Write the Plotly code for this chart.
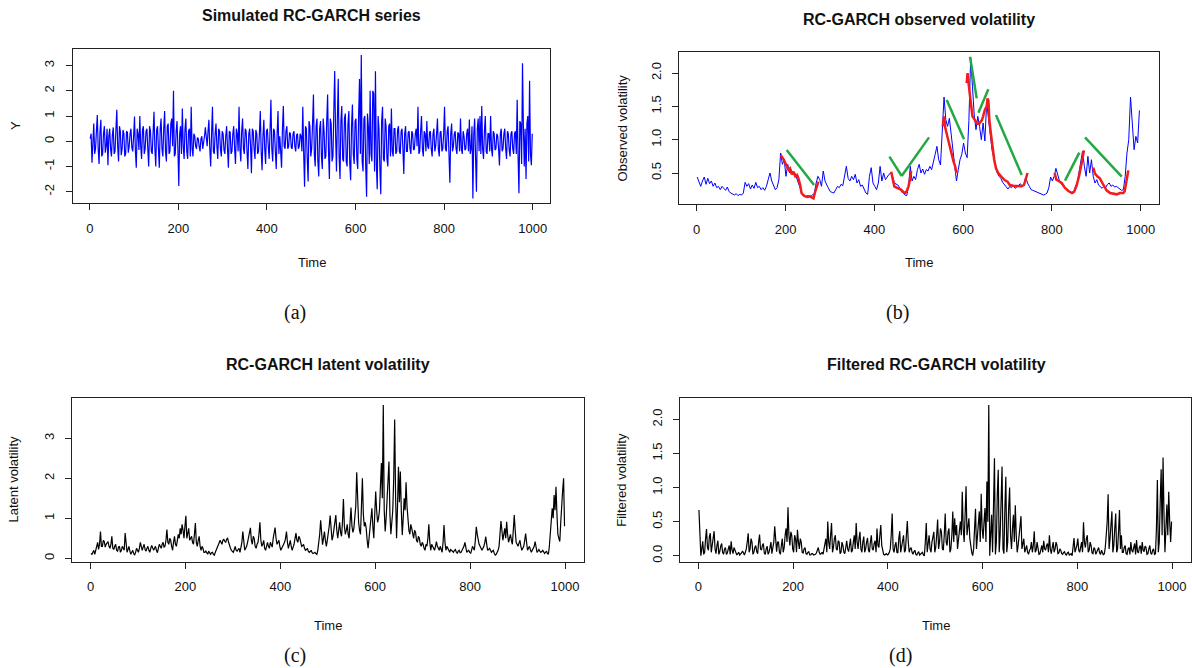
import plotly.graph_objects as go

W, H = 1192, 668

# ---------------- data ----------------
time2 = list(range(1, 1000, 2))   # panels (a), (c), (d): one value every 2 time steps
time4 = list(range(1, 1001, 4))   # panel (b): one value every 4 time steps

y_series = [
    0.1, 0.3, -0.85, 0.2, 0.7, -0.5, -0.3, 0.4, 1.04, -0.3, -0.9, 0.35, 0.85, -0.6, -0.5, 0.3, 0.6, -0.45, -0.2, 0.5,
    -0.95, 0.2, 0.5, -0.3, -0.6, 0.25, 0.55, -0.5, -0.4, 0.45, 1.25, -0.2, -0.8, 0.6, 0.4, -0.55, -0.3, 0.45, 0.3, -0.6,
    -0.5, 0.4, 0.35, -0.45, -0.2, 0.3, 0.5, -0.25, -0.4, 0.2, 0.98, -0.4, -1.05, 0.5, 0.3, -0.35, 1.0, -0.2, -0.7, 0.45,
    0.6, -0.5, -0.3, 0.4, 0.5, -0.3, -1.0, 0.6, 0.4, -0.4, -0.5, 0.35, 1.17, -0.3, -1.0, 0.45, 0.6, -0.3, -1.05, 0.5,
    0.9, -0.3, -0.6, 0.5, 1.2, -0.4, -0.8, 0.6, 0.7, -0.5, -0.4, 0.7, 0.9, -0.2, 2.0, -0.6, -0.5, 0.4, 0.8, -0.3,
    -1.77, 0.3, 0.6, -0.5, 1.3, -0.2, -0.7, 0.5, 0.9, -0.4, -0.7, 0.4, 0.5, -0.6, 1.37, -0.3, -0.6, 0.3, 0.2, -0.2,
    -0.3, 0.15, 0.1, -0.2, -0.4, 0.1, 0.2, -0.3, -0.1, 0.2, 0.55, -0.1, -0.2, 0.4, 0.85, -0.3, -1.0, 0.3, 1.37, -0.4,
    -0.5, 0.3, 0.7, -0.2, -0.7, 0.5, 0.4, -0.3, -0.6, 0.4, 0.3, -0.35, -0.5, 0.2, 0.6, -0.3, -1.05, 0.4, 0.35, -0.5,
    -0.4, 0.3, 0.6, -0.3, -0.9, 0.5, 0.3, -0.4, 1.37, -0.3, -0.8, 0.4, 0.9, -0.3, -0.5, 0.5, 0.4, -0.4, -1.1, 0.3,
    0.5, -0.2, -1.27, 0.5, 0.4, -0.3, -0.7, 0.45, 0.3, -0.5, -0.4, 0.3, 1.2, -0.4, -1.15, 0.2, 0.85, -0.3, -0.9, 0.4,
    0.5, -0.2, -0.7, 0.4, 1.65, -0.3, -0.8, 0.5, 0.4, -0.4, -1.1, 0.3, 1.2, -0.5, 0.2, -0.4, -1.05, 0.5, 1.4, -0.2,
    -0.3, 0.4, 0.6, -0.3, -0.2, 0.35, 0.3, -0.25, -0.3, 0.3, 0.4, -0.2, -0.4, 0.25, 0.3, -0.3, -0.2, 0.3, 0.2, -0.4,
    1.37, -0.5, -1.8, 0.6, 0.5, -0.7, -1.6, 0.8, 0.6, -0.6, -0.3, 0.7, 1.86, -0.5, -1.0, 0.6, 0.9, -0.8, -1.4, 0.5,
    0.8, -0.6, -1.1, 0.9, 0.4, -0.7, -0.6, 0.8, 1.86, -0.4, -1.5, 0.9, 0.7, -0.8, -0.6, 1.2, 2.79, 0.3, -1.2, 0.9,
    2.48, -0.6, -1.5, 0.8, 1.4, -0.7, -0.8, 0.9, 1.1, -0.8, -1.0, 0.7, 1.2, -0.9, -1.55, 0.6, 1.46, -0.5, -0.9, 0.8,
    0.9, -0.7, -1.1, 1.0, 2.47, -0.5, 3.42, -0.8, -1.2, 0.9, 1.0, -1.0, -2.2, 1.1, 0.6, -0.9, 2.0, -0.5, -0.8, 2.0,
    1.9, -1.2, 2.78, -0.9, -1.9, 1.0, 0.5, -1.1, -2.1, 0.8, 1.37, -0.7, -0.8, 0.9, 0.6, -0.7, -1.0, 0.6, 0.7, -0.6,
    1.3, -0.4, -0.6, 0.5, 0.5, -0.5, -0.4, 0.45, 0.6, -0.4, -0.5, 0.4, 0.5, -0.3, -1.3, 0.3, 0.6, -0.4, -0.4, 0.35,
    0.4, -0.3, -0.5, 0.4, 0.3, -0.35, -0.3, 0.3, 0.5, -0.2, 1.37, -0.5, -0.4, 0.4, 1.0, -0.3, -0.6, 0.4, 0.3, -0.4,
    0.8, -0.2, -0.3, 0.35, 0.4, -0.3, -0.6, 0.3, 0.5, -0.4, -0.2, 0.3, 0.9, -0.3, -0.6, 0.35, 0.4, -0.4, -0.3, 0.3,
    1.37, -0.3, -0.4, 0.4, 0.6, -0.5, -1.65, 0.3, 0.7, -0.4, -0.2, 0.3, 0.4, -0.3, -0.5, 0.35, 0.3, -0.4, 0.9, -0.3,
    -0.5, 0.4, 0.2, -0.35, -0.3, 0.3, 0.5, -0.4, 0.86, -0.5, -0.3, 0.6, -2.27, 0.3, 0.9, -0.6, -2.0, 0.5, 0.9, -0.4,
    1.0, -0.5, 1.4, -0.3, -0.7, 0.4, 1.0, -0.4, -0.5, 0.3, 0.3, -0.4, 1.0, -0.3, -0.6, 0.4, 0.3, -0.35, -0.3, 0.3,
    0.2, -0.3, -0.96, 0.3, 0.5, -0.4, -0.3, 0.3, 0.5, -0.3, -0.7, 0.4, 0.3, -0.35, -0.6, 0.3, 0.4, -0.3, -0.5, 0.3,
    0.4, -0.5, 1.65, -0.6, -2.06, 0.8, 0.7, -0.9, 3.1, 0.6, -1.0, 0.5, -1.5, 0.7, 1.0, -0.8, 2.4, -0.5, -0.95, 0.3,
]

obs_vol = [
    0.44, 0.37, 0.3, 0.38, 0.44, 0.33, 0.42, 0.34, 0.38, 0.3,
    0.35, 0.28, 0.3, 0.25, 0.3, 0.27, 0.24, 0.29, 0.22, 0.2,
    0.18, 0.17, 0.19, 0.16, 0.18, 0.17, 0.2, 0.36, 0.3, 0.34,
    0.26, 0.32, 0.27, 0.36, 0.28, 0.3, 0.25, 0.28, 0.24, 0.3,
    0.4, 0.5, 0.38, 0.3, 0.25, 0.28, 0.4, 0.8, 0.63, 0.7,
    0.45, 0.63, 0.5, 0.55, 0.48, 0.5, 0.42, 0.35, 0.28, 0.2,
    0.17, 0.15, 0.16, 0.15, 0.15, 0.17, 0.2, 0.35, 0.45, 0.4,
    0.3, 0.53, 0.38, 0.32, 0.27, 0.22, 0.21, 0.2, 0.25, 0.3,
    0.28, 0.33, 0.31, 0.45, 0.6, 0.42, 0.38, 0.45, 0.4, 0.48,
    0.35, 0.4, 0.3, 0.32, 0.25, 0.2, 0.18, 0.45, 0.58, 0.35,
    0.3, 0.25, 0.35, 0.6, 0.38, 0.5, 0.4, 0.45, 0.48, 0.5,
    0.45, 0.35, 0.33, 0.32, 0.28, 0.22, 0.2, 0.17, 0.16, 0.3,
    0.6, 0.38, 0.45, 0.4, 0.55, 0.63, 0.5, 0.56, 0.48, 0.55,
    0.53, 0.6, 0.55, 0.65, 0.78, 0.9, 0.7, 0.62, 1.19, 1.64,
    1.3, 1.2, 1.32, 1.1, 0.9, 0.65, 0.38, 0.55, 0.7, 0.78,
    0.95, 0.8, 0.73, 1.29, 2.23, 1.8, 1.37, 1.15, 1.35, 1.2,
    1.0, 1.25, 0.98, 1.56, 1.3, 1.05, 0.85, 0.73, 0.6, 0.5,
    0.45, 0.42, 0.36, 0.32, 0.29, 0.26, 0.3, 0.28, 0.32, 0.27,
    0.29, 0.31, 0.34, 0.3, 0.32, 0.44, 0.35, 0.3, 0.25, 0.24,
    0.23, 0.22, 0.21, 0.2, 0.18, 0.17, 0.18, 0.2, 0.28, 0.44,
    0.38, 0.45, 0.57, 0.45, 0.38, 0.34, 0.3, 0.28, 0.26, 0.24,
    0.22, 0.2, 0.2, 0.3, 0.35, 0.5, 0.7, 0.83, 0.6, 0.45,
    0.75, 0.5, 0.7, 0.45, 0.35, 0.4, 0.32, 0.3, 0.27, 0.3,
    0.28, 0.33, 0.35, 0.3, 0.32, 0.29, 0.3, 0.28, 0.26, 0.24,
    0.25, 0.45, 0.8, 1.0, 1.64, 1.3, 0.85, 1.05, 0.95, 1.44,
]

lat_vol = [
    0.12, 0.1, 0.15, 0.2, 0.1, 0.18, 0.3, 0.4, 0.22, 0.35, 0.67, 0.3, 0.3, 0.45, 0.42, 0.28, 0.35, 0.4, 0.42, 0.3,
    0.25, 0.35, 0.55, 0.25, 0.22, 0.3, 0.35, 0.2, 0.18, 0.28, 0.3, 0.15, 0.2, 0.3, 0.25, 0.2, 0.63, 0.25, 0.15, 0.22,
    0.3, 0.18, 0.1, 0.15, 0.2, 0.12, 0.08, 0.15, 0.25, 0.2, 0.15, 0.25, 0.4, 0.3, 0.2, 0.28, 0.35, 0.22, 0.18, 0.25,
    0.3, 0.2, 0.15, 0.25, 0.32, 0.26, 0.2, 0.25, 0.3, 0.2, 0.14, 0.25, 0.35, 0.3, 0.25, 0.35, 0.4, 0.28, 0.3, 0.45,
    0.72, 0.4, 0.35, 0.5, 0.45, 0.3, 0.2, 0.4, 0.55, 0.35, 0.3, 0.45, 0.6, 0.5, 0.75, 0.6, 0.85, 0.7, 0.5, 0.8,
    1.06, 0.5, 0.6, 0.75, 0.45, 0.5, 0.55, 0.4, 0.35, 0.6, 0.88, 0.4, 0.3, 0.45, 0.55, 0.3, 0.2, 0.3, 0.25, 0.15,
    0.15, 0.18, 0.12, 0.1, 0.18, 0.12, 0.1, 0.14, 0.15, 0.1, 0.08, 0.15, 0.2, 0.25, 0.3, 0.38, 0.45, 0.4, 0.35, 0.45,
    0.48, 0.42, 0.4, 0.48, 0.5, 0.4, 0.3, 0.25, 0.2, 0.18, 0.15, 0.22, 0.3, 0.2, 0.18, 0.22, 0.25, 0.15, 0.3, 0.4,
    0.67, 0.3, 0.2, 0.25, 0.3, 0.4, 0.5, 0.6, 0.76, 0.45, 0.35, 0.55, 0.5, 0.3, 0.25, 0.35, 0.4, 0.6, 0.9, 0.45,
    0.3, 0.35, 0.45, 0.25, 0.2, 0.3, 0.4, 0.3, 0.25, 0.4, 0.35, 0.28, 0.5, 0.65, 0.77, 0.5, 0.35, 0.4, 0.45, 0.3,
    0.2, 0.25, 0.3, 0.35, 0.4, 0.5, 0.67, 0.4, 0.25, 0.35, 0.45, 0.3, 0.2, 0.28, 0.35, 0.5, 0.63, 0.45, 0.4, 0.55,
    0.5, 0.4, 0.3, 0.32, 0.35, 0.25, 0.2, 0.22, 0.25, 0.18, 0.15, 0.17, 0.2, 0.14, 0.12, 0.13, 0.15, 0.12, 0.1, 0.2,
    0.35, 0.6, 0.95, 0.5, 0.34, 0.5, 0.67, 0.45, 0.3, 0.45, 0.6, 0.8, 1.07, 0.6, 0.45, 0.55, 0.7, 0.9, 1.08, 0.7,
    0.5, 0.7, 0.9, 0.65, 0.55, 0.9, 1.48, 0.8, 0.6, 0.7, 0.85, 0.6, 0.5, 0.9, 1.27, 0.8, 0.65, 0.75, 1.0, 1.3,
    2.15, 1.2, 0.9, 0.7, 0.6, 1.3, 2.0, 1.1, 0.8, 0.9, 0.75, 0.45, 0.25, 0.5, 0.7, 0.95, 1.25, 0.8, 0.5, 1.1,
    1.67, 1.2, 0.9, 1.0, 1.2, 1.8, 2.38, 1.5, 3.83, 1.2, 0.67, 1.0, 1.4, 1.9, 2.42, 1.1, 0.6, 0.9, 1.2, 2.0,
    3.47, 1.5, 0.5, 1.3, 2.29, 1.4, 2.17, 1.2, 0.58, 1.0, 1.5, 1.2, 1.9, 1.3, 0.9, 0.7, 0.6, 0.85, 0.75, 0.55,
    0.5, 0.7, 0.65, 0.45, 0.4, 0.55, 0.5, 0.35, 0.3, 0.4, 0.35, 0.25, 0.2, 0.35, 0.3, 0.5, 0.85, 0.4, 0.2, 0.35,
    0.3, 0.25, 0.2, 0.3, 0.42, 0.3, 0.25, 0.2, 0.3, 0.22, 0.15, 0.4, 0.83, 0.4, 0.2, 0.3, 0.25, 0.18, 0.15, 0.22,
    0.2, 0.17, 0.15, 0.2, 0.22, 0.15, 0.12, 0.18, 0.2, 0.14, 0.15, 0.2, 0.25, 0.3, 0.4, 0.25, 0.15, 0.18, 0.2, 0.15,
    0.12, 0.2, 0.3, 0.25, 0.2, 0.45, 0.79, 0.6, 0.45, 0.35, 0.3, 0.25, 0.2, 0.25, 0.3, 0.4, 0.54, 0.35, 0.2, 0.22,
    0.25, 0.2, 0.15, 0.18, 0.2, 0.12, 0.08, 0.1, 0.15, 0.2, 0.3, 0.6, 0.93, 0.7, 0.45, 0.6, 0.75, 0.5, 0.91, 0.6,
    0.4, 0.5, 0.6, 0.45, 0.35, 0.7, 1.08, 0.7, 0.4, 0.35, 0.3, 0.38, 0.45, 0.3, 0.2, 0.25, 0.3, 0.45, 0.62, 0.4,
    0.2, 0.25, 0.3, 0.22, 0.15, 0.2, 0.25, 0.3, 0.42, 0.28, 0.15, 0.18, 0.22, 0.18, 0.15, 0.17, 0.2, 0.16, 0.12, 0.15,
    0.18, 0.12, 0.1, 0.3, 0.6, 0.9, 1.25, 1.0, 1.58, 1.2, 1.79, 1.1, 0.6, 0.5, 0.42, 0.9, 1.4, 1.7, 2.0, 0.8,
]

filt_vol = [
    0.67, 0.2, 0.0, 0.1, 0.21, 0.02, 0.05, 0.25, 0.39, 0.12, 0.08, 0.28, 0.33, 0.05, 0.15, 0.3, 0.36, 0.1, 0.03, 0.15,
    0.22, 0.02, 0.06, 0.14, 0.18, 0.05, 0.02, 0.1, 0.12, 0.02, 0.04, 0.1, 0.15, 0.02, 0.21, 0.08, 0.03, 0.12, 0.08, 0.02,
    0.01, 0.03, 0.05, 0.01, 0.02, 0.04, 0.07, 0.02, 0.01, 0.05, 0.1, 0.2, 0.33, 0.05, 0.1, 0.25, 0.2, 0.02, 0.05, 0.12,
    0.15, 0.06, 0.03, 0.2, 0.31, 0.1, 0.08, 0.15, 0.18, 0.04, 0.02, 0.1, 0.14, 0.02, 0.05, 0.12, 0.2, 0.03, 0.1, 0.2,
    0.43, 0.15, 0.06, 0.2, 0.2, 0.05, 0.02, 0.15, 0.25, 0.05, 0.12, 0.3, 0.4, 0.2, 0.71, 0.3, 0.15, 0.35, 0.3, 0.1,
    0.05, 0.3, 0.25, 0.05, 0.38, 0.2, 0.1, 0.25, 0.2, 0.05, 0.04, 0.1, 0.12, 0.03, 0.02, 0.05, 0.06, 0.01, 0.01, 0.03,
    0.03, 0.01, 0.01, 0.02, 0.04, 0.08, 0.12, 0.05, 0.02, 0.03, 0.05, 0.02, 0.1, 0.18, 0.25, 0.05, 0.5, 0.2, 0.1, 0.3,
    0.48, 0.05, 0.12, 0.25, 0.3, 0.1, 0.08, 0.22, 0.2, 0.03, 0.05, 0.2, 0.15, 0.05, 0.03, 0.12, 0.22, 0.1, 0.06, 0.15,
    0.25, 0.05, 0.08, 0.2, 0.3, 0.1, 0.48, 0.2, 0.1, 0.25, 0.35, 0.1, 0.05, 0.2, 0.28, 0.05, 0.1, 0.2, 0.26, 0.08,
    0.05, 0.2, 0.3, 0.1, 0.08, 0.18, 0.22, 0.05, 0.4, 0.15, 0.12, 0.3, 0.45, 0.15, 0.05, 0.02, 0.01, 0.02, 0.03, 0.01,
    0.02, 0.05, 0.1, 0.3, 0.62, 0.1, 0.05, 0.15, 0.2, 0.05, 0.04, 0.25, 0.36, 0.05, 0.15, 0.25, 0.3, 0.05, 0.08, 0.3,
    0.51, 0.2, 0.05, 0.1, 0.12, 0.05, 0.02, 0.06, 0.08, 0.02, 0.01, 0.04, 0.06, 0.01, 0.02, 0.04, 0.05, 0.01, 0.0, 0.2,
    0.48, 0.05, 0.15, 0.3, 0.1, 0.05, 0.2, 0.3, 0.35, 0.05, 0.12, 0.3, 0.53, 0.1, 0.2, 0.4, 0.35, 0.1, 0.08, 0.3,
    0.62, 0.2, 0.15, 0.35, 0.4, 0.05, 0.1, 0.3, 0.65, 0.2, 0.55, 0.3, 0.45, 0.1, 0.25, 0.4, 0.5, 0.3, 0.94, 0.4,
    0.2, 0.6, 1.02, 0.3, 0.4, 0.55, 0.25, 0.1, 0.05, 0.0, 0.1, 0.4, 0.69, 0.1, 0.3, 0.5, 0.65, 0.2, 0.91, 0.4,
    0.25, 0.5, 0.7, 0.2, 1.09, 0.5, 2.21, 0.0, 0.4, 0.6, 0.05, 0.8, 1.43, 0.02, 0.2, 0.9, 1.26, 0.05, 0.3, 0.8,
    1.31, 0.1, 0.03, 0.7, 1.16, 0.05, 0.2, 0.7, 1.0, 0.3, 0.1, 0.4, 0.6, 0.2, 0.74, 0.3, 0.05, 0.15, 0.3, 0.45,
    0.58, 0.1, 0.2, 0.25, 0.05, 0.1, 0.15, 0.05, 0.02, 0.08, 0.1, 0.2, 0.05, 0.15, 0.36, 0.05, 0.08, 0.2, 0.12, 0.02,
    0.03, 0.1, 0.15, 0.05, 0.22, 0.1, 0.08, 0.15, 0.18, 0.05, 0.3, 0.1, 0.03, 0.12, 0.2, 0.05, 0.1, 0.2, 0.15, 0.03,
    0.04, 0.1, 0.08, 0.03, 0.02, 0.05, 0.06, 0.02, 0.01, 0.04, 0.05, 0.01, 0.02, 0.03, 0.0, 0.1, 0.26, 0.05, 0.1, 0.15,
    0.25, 0.08, 0.05, 0.15, 0.2, 0.05, 0.49, 0.2, 0.12, 0.25, 0.3, 0.05, 0.08, 0.2, 0.15, 0.04, 0.03, 0.12, 0.1, 0.02,
    0.06, 0.1, 0.12, 0.04, 0.02, 0.08, 0.05, 0.01, 0.03, 0.12, 0.3, 0.5, 0.9, 0.1, 0.25, 0.4, 0.65, 0.05, 0.15, 0.4,
    0.62, 0.05, 0.1, 0.35, 0.67, 0.1, 0.3, 0.05, 0.05, 0.12, 0.15, 0.03, 0.02, 0.1, 0.12, 0.02, 0.2, 0.08, 0.05, 0.12,
    0.18, 0.02, 0.23, 0.06, 0.04, 0.12, 0.15, 0.03, 0.2, 0.08, 0.06, 0.14, 0.12, 0.02, 0.03, 0.1, 0.15, 0.04, 0.02, 0.08,
    0.1, 0.02, 0.03, 0.4, 1.11, 0.05, 0.2, 0.8, 1.27, 0.3, 1.44, 0.6, 0.05, 0.4, 0.75, 0.3, 0.94, 0.5, 0.2, 0.5,
]

# red smoothed stretches on the observed-volatility panel
red_t = [
    [189, 196, 203, 207, 210, 214, 218, 222, 226, 229, 233, 236, 240, 244, 250, 255, 260, 263, 266, 270, 274],
    [438, 441, 445, 450, 455, 460, 465, 469, 473, 477, 480, 483],
    [554, 557, 560, 563, 567, 571, 574, 578, 582, 585],
    [608, 610, 613, 617, 621, 627, 632, 636, 642, 645, 649, 653, 655, 657, 659, 662, 664, 667, 670, 674,
     679, 687, 694, 700, 705, 713, 722, 732, 737, 741, 745],
    [806, 810, 815, 822, 829, 837, 845, 850, 855, 861, 867, 872],
    [893, 897, 902, 908, 916, 923, 931, 938, 946, 953, 961, 964, 968, 972],
]
red_v = [
    [0.77, 0.7, 0.6, 0.55, 0.57, 0.48, 0.52, 0.45, 0.47, 0.42, 0.32, 0.2, 0.17, 0.15, 0.14, 0.15, 0.13, 0.12, 0.2, 0.3, 0.37],
    [0.52, 0.4, 0.3, 0.28, 0.27, 0.25, 0.22, 0.2, 0.23, 0.3, 0.4, 0.53],
    [1.2, 1.35, 1.17, 1.08, 0.96, 0.86, 0.76, 0.68, 0.6, 0.5],
    [1.85, 2.0, 1.8, 1.6, 1.35, 1.29, 1.24, 1.24, 1.29, 1.35, 1.45, 1.5, 1.62, 1.58, 1.3, 1.12, 1.0, 0.84, 0.7, 0.57,
     0.5, 0.44, 0.39, 0.37, 0.32, 0.31, 0.3, 0.3, 0.32, 0.42, 0.5],
    [0.5, 0.4, 0.38, 0.35, 0.28, 0.23, 0.2, 0.22, 0.3, 0.45, 0.65, 0.84],
    [0.58, 0.49, 0.45, 0.42, 0.32, 0.24, 0.2, 0.19, 0.18, 0.2, 0.2, 0.23, 0.39, 0.54],
]

# green trend segments (start/end) on the observed-volatility panel
green_t0 = [202.6, 434, 461.6, 563, 615.5, 634.4, 674, 829.5, 874.5]
green_v0 = [0.845, 0.745, 0.455, 1.595, 2.245, 1.405, 1.37, 0.385, 1.035]
green_t1 = [264.2, 461.6, 523.2, 602, 630.6, 656.8, 732, 861.7, 957.2]
green_v1 = [0.32, 0.455, 1.035, 1.005, 1.62, 1.755, 0.47, 0.805, 0.445]

x_ticks = [0, 200, 400, 600, 800, 1000]
ticks_a = [-2, -1, 0, 1, 2, 3]
ticks_b = [0.5, 1.0, 1.5, 2.0]
ticks_c = [0, 1, 2, 3]
ticks_d = [0.0, 0.5, 1.0, 1.5, 2.0]

# ---------------- figure ----------------
FONT = "Arial, 'Liberation Sans', sans-serif"
SERIF = "'Liberation Serif', 'DejaVu Serif', serif"
BLUE = "#0000ff"
RED = "#f21c1c"
GREEN = "#22a845"


def px_x(a, b):
    return [a / W, b / W]


def px_y(top, bottom):
    return [1 - bottom / H, 1 - top / H]


fig = go.Figure()

fig.add_trace(go.Scatter(x=time2, y=y_series, mode="lines", line=dict(color=BLUE, width=1.2),
                         xaxis="x", yaxis="y", showlegend=False))
fig.add_trace(go.Scatter(x=time4, y=obs_vol, mode="lines", line=dict(color=BLUE, width=1),
                         xaxis="x2", yaxis="y2", showlegend=False))

rx, ry = [], []
for ts, vs in zip(red_t, red_v):
    rx += ts + [None]
    ry += vs + [None]
fig.add_trace(go.Scatter(x=rx, y=ry, mode="lines", line=dict(color=RED, width=2.5),
                         xaxis="x2", yaxis="y2", showlegend=False))

gx, gy = [], []
for a, b, c, d in zip(green_t0, green_t1, green_v0, green_v1):
    gx += [a, b, None]
    gy += [c, d, None]
fig.add_trace(go.Scatter(x=gx, y=gy, mode="lines", line=dict(color=GREEN, width=2.5),
                         xaxis="x2", yaxis="y2", showlegend=False))

fig.add_trace(go.Scatter(x=time2, y=lat_vol, mode="lines", line=dict(color="black", width=1.2),
                         xaxis="x3", yaxis="y3", showlegend=False))
fig.add_trace(go.Scatter(x=time2, y=filt_vol, mode="lines", line=dict(color="black", width=1.2),
                         xaxis="x4", yaxis="y4", showlegend=False))

common = dict(showline=True, mirror=True, linecolor="#222", linewidth=1, ticks="outside",
              ticklen=6, tickcolor="#222", tickwidth=1, showgrid=False, zeroline=False,
              tickfont=dict(family=FONT, size=13, color="#111"), fixedrange=True)
xcommon = dict(common, ticklabelstandoff=7)
ycommon = dict(common, ticklabelstandoff=6, tickangle=-90)

xr = [-39, 1040]
boxes = {
    "a": (72.5, 550.4, 49.3, 203.0),
    "b": (679.4, 1158.5, 51.7, 204.0),
    "c": (72.0, 584.0, 398.3, 561.7),
    "d": (680.0, 1191.0, 398.3, 561.7),
}

fig.update_layout(
    width=W, height=H, autosize=False,
    margin=dict(l=0, r=0, t=0, b=0),
    paper_bgcolor="white", plot_bgcolor="white",
    xaxis=dict(domain=px_x(*boxes["a"][:2]), anchor="y", range=xr, tickvals=x_ticks, **xcommon),
    yaxis=dict(domain=px_y(*boxes["a"][2:]), anchor="x", range=[-2.45, 3.65], tickvals=ticks_a,
               ticktext=[str(v) for v in ticks_a], **ycommon),
    xaxis2=dict(domain=px_x(*boxes["b"][:2]), anchor="y2", range=xr, tickvals=x_ticks, **xcommon),
    yaxis2=dict(domain=px_y(*boxes["b"][2:]), anchor="x2", range=[0.035, 2.32], tickvals=ticks_b,
                ticktext=[f"{v:.1f}" for v in ticks_b], **ycommon),
    xaxis3=dict(domain=px_x(*boxes["c"][:2]), anchor="y3", range=xr, tickvals=x_ticks, **xcommon),
    yaxis3=dict(domain=px_y(*boxes["c"][2:]), anchor="x3", range=[-0.085, 4.0], tickvals=ticks_c, **ycommon),
    xaxis4=dict(domain=px_x(*boxes["d"][:2]), anchor="y4", range=xr, tickvals=x_ticks, **xcommon),
    yaxis4=dict(domain=px_y(*boxes["d"][2:]), anchor="x4", range=[-0.088, 2.31], tickvals=ticks_d,
                ticktext=[f"{v:.1f}" for v in ticks_d], **ycommon),
)


def ann(text, x, y, size=13, bold=False, angle=0, family=FONT):
    fig.add_annotation(text=f"<b>{text}</b>" if bold else text, x=x / W, y=1 - y / H,
                       xref="paper", yref="paper", xanchor="center", yanchor="middle",
                       showarrow=False, textangle=angle,
                       font=dict(family=family, size=size, color="#111"))


# titles
ann("Simulated RC-GARCH series", 311.5, 16, size=16, bold=True)
ann("RC-GARCH observed volatility", 919, 19, size=16, bold=True)
ann("RC-GARCH latent volatility", 328, 364, size=16, bold=True)
ann("Filtered RC-GARCH volatility", 936, 364, size=16, bold=True)
# x axis titles
ann("Time", 311.5, 262.5)
ann("Time", 919, 262.5)
ann("Time", 328, 625)
ann("Time", 936, 625)
# y axis titles
ann("Y", 16, 126, angle=-90)
ann("Observed volatility", 623.4, 128, angle=-90)
ann("Latent volatility", 12.5, 480, angle=-90)
ann("Filtered volatility", 620.8, 480, angle=-90)
# sub-captions
ann("(a)", 295, 312, size=20, family=SERIF)
ann("(b)", 897, 312, size=20, family=SERIF)
ann("(c)", 295, 655, size=20, family=SERIF)
ann("(d)", 900, 655, size=20, family=SERIF)

fig.write_html("out.html",
               config={"displayModeBar": False, "staticPlot": True},
               post_script="document.body.style.margin='0px';document.body.style.overflow='hidden';")
